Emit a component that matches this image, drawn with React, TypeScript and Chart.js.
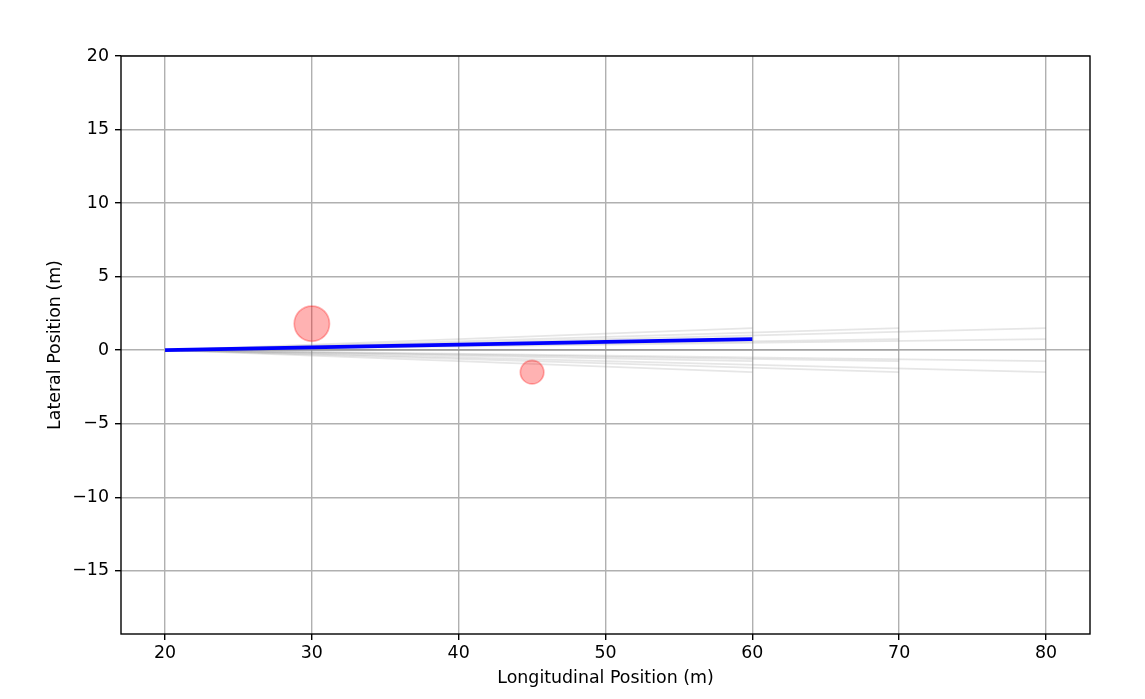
import React, { useEffect, useRef } from "react";
import { Chart, registerables } from "chart.js";

Chart.register(...registerables);

// Candidate path end longitudinal positions and lateral offsets
const endXs = [60, 70, 80];
const endOffsets = [-1.5, -0.75, 0, 0.75, 1.5];
const startX = 20;
const startY = 0;

// Selected path
const pathX = [20, 60];
const pathY = [0, 0.75];

// Obstacles (center x, center y, radius in m)
const obsX = [30, 45];
const obsY = [1.8, -1.5];
const obsR = [1.2, 0.8];

const xTicks = [20, 30, 40, 50, 60, 70, 80];
const yTicks = [-15, -10, -5, 0, 5, 10, 15, 20];

const FONT = "'DejaVu Sans', sans-serif";
const FS = 17.4;

export default function App() {
  const ref = useRef<HTMLCanvasElement | null>(null);

  useEffect(() => {
    document.body.style.margin = "0";
    const canvas = ref.current;
    if (!canvas) return;

    const datasets: any[] = [];
    endXs.forEach((ex) => {
      endOffsets.forEach((off) => {
        datasets.push({
          type: "line",
          data: [
            { x: startX, y: startY },
            { x: ex, y: off },
          ],
          borderColor: "rgba(128,128,128,0.2)",
          borderWidth: 1.8,
          pointRadius: 0,
          fill: false,
          order: 3,
        });
      });
    });
    datasets.push({
      type: "scatter",
      data: obsX.map((x, i) => ({ x, y: obsY[i] })),
      backgroundColor: "rgba(255,0,0,0.3)",
      borderColor: "rgba(255,0,0,0.3)",
      borderWidth: 1.7,
      pointRadius: (ctx: any) => {
        const sx = ctx.chart.scales.x;
        if (!sx) return 0;
        const r = obsR[ctx.dataIndex] ?? 0;
        return Math.abs(sx.getPixelForValue(r) - sx.getPixelForValue(0));
      },
      pointHoverRadius: 0,
      order: 2,
    });
    datasets.push({
      type: "line",
      data: pathX.map((x, i) => ({ x, y: pathY[i] })),
      borderColor: "#0000ff",
      borderWidth: 3.6,
      pointRadius: 0,
      fill: false,
      order: 1,
    });

    const framePlugin = {
      id: "frame",
      afterDatasetsDraw(chart: any) {
        const { ctx, chartArea } = chart;
        ctx.save();
        ctx.strokeStyle = "#000";
        ctx.lineWidth = 1.4;
        ctx.strokeRect(
          chartArea.left,
          chartArea.top,
          chartArea.right - chartArea.left,
          chartArea.bottom - chartArea.top
        );
        ctx.restore();
      },
    };

    const chart = new Chart(canvas, {
      type: "scatter",
      data: { datasets },
      options: {
        animation: false,
        responsive: false,
        events: [],
        layout: { padding: { top: 56, right: 55, left: 0, bottom: 0 } },
        plugins: { legend: { display: false }, tooltip: { enabled: false } },
        scales: {
          x: {
            type: "linear",
            min: 17,
            max: 83,
            afterBuildTicks: (s: any) => {
              s.ticks = xTicks.map((v) => ({ value: v }));
            },
            afterFit: (s: any) => {
              s.height = 65;
            },
            grid: {
              color: "#b0b0b0",
              lineWidth: 1.4,
              drawTicks: true,
              tickLength: 6,
              tickColor: "#000",
            },
            border: { display: false },
            ticks: {
              color: "#000",
              font: { family: FONT, size: FS },
              padding: 3,
              maxRotation: 0,
              callback: (v: any) => String(v),
            },
            title: {
              display: true,
              text: "Longitudinal Position (m)",
              color: "#000",
              font: { family: FONT, size: FS },
              padding: { top: 0, bottom: 10 },
            },
          },
          y: {
            type: "linear",
            min: -19.3,
            max: 20,
            afterBuildTicks: (s: any) => {
              s.ticks = yTicks.map((v) => ({ value: v }));
            },
            afterFit: (s: any) => {
              s.width = 121;
            },
            grid: {
              color: "#b0b0b0",
              lineWidth: 1.4,
              drawTicks: true,
              tickLength: 6,
              tickColor: "#000",
            },
            border: { display: false },
            ticks: {
              color: "#000",
              font: { family: FONT, size: FS },
              padding: 6,
              callback: (v: any) => (v < 0 ? "\u2212" + Math.abs(v) : String(v)),
            },
            title: {
              display: true,
              text: "Lateral Position (m)",
              color: "#000",
              font: { family: FONT, size: FS },
              padding: { top: 45, bottom: 0 },
            },
          },
        },
      },
      plugins: [framePlugin],
    });

    return () => chart.destroy();
  }, []);

  return (
    <div style={{ width: 1145, height: 699, background: "#fff" }}>
      <canvas ref={ref} width={1145} height={699} style={{ display: "block" }} />
    </div>
  );
}
